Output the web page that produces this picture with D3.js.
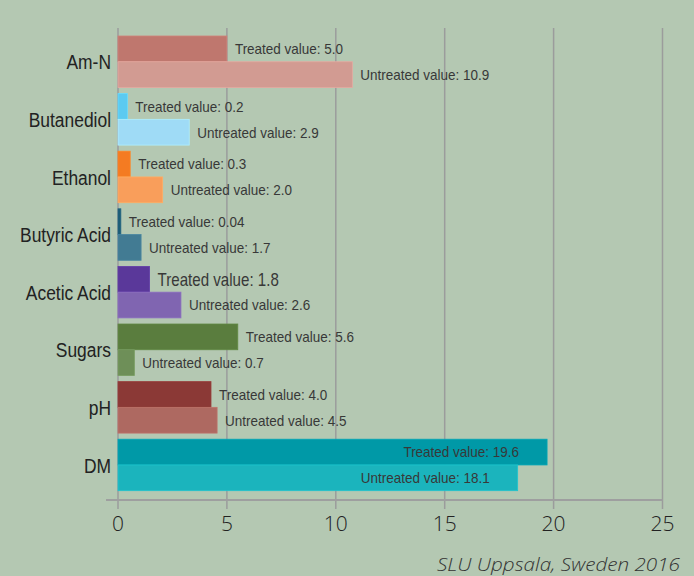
<!DOCTYPE html>
<html>
<head>
<meta charset="utf-8">
<script src="https://cdn.jsdelivr.net/npm/d3@7"></script>
<style>
    body { margin: 0; background: #b4c8b2; }
    svg { display: block; }
</style>
</head>
<body>
<div id="chart"></div>
<script>
var svgWidth = 694;
var svgHeight = 576;

// categories, top to bottom
var categories = ["Am-N", "Butanediol", "Ethanol", "Butyric Acid", "Acetic Acid", "Sugars", "pH", "DM"];

// bar lengths as drawn in the picture
var treatedValues = [5.0, 0.43, 0.56, 0.13, 1.45, 5.5, 4.27, 19.7];
var untreatedValues = [10.76, 3.27, 2.05, 1.06, 2.89, 0.75, 4.55, 18.35];

// values written in the labels
var treatedLabels = ["5.0", "0.2", "0.3", "0.04", "1.8", "5.6", "4.0", "19.6"];
var untreatedLabels = ["10.9", "2.9", "2.0", "1.7", "2.6", "0.7", "4.5", "18.1"];

var treatedColors = ["#bf776e", "#5ccaf0", "#f47b22", "#1d5c76", "#5a389a", "#5a7d3e", "#8b3936", "#0099a7"];
var untreatedColors = ["#d29b92", "#9fdbf6", "#f99e5b", "#427b93", "#8065b1", "#6e8f58", "#ae6961", "#1bb4bd"];

var xTicks = [0, 5, 10, 15, 20, 25];

var margin = { top: 36, left: 118 };

// narrow sans: Liberation Sans squeezed horizontally
var narrowFont = "'Liberation Sans', Arial, sans-serif";

var svg = d3.select("#chart")
    .append("svg")
    .attr("width", svgWidth)
    .attr("height", svgHeight);

svg.append("rect")
    .attr("width", svgWidth)
    .attr("height", svgHeight)
    .attr("fill", "#b4c8b2");

var xScale = d3.scaleLinear()
    .domain([0, 25])
    .range([margin.left, margin.left + 25 * 21.78]);

var yScale = d3.scaleBand()
    .domain(categories)
    .range([margin.top, 490.7])
    .paddingInner(0.106)
    .paddingOuter(0);

var subScale = d3.scaleBand()
    .domain(["treated", "untreated"])
    .range([0, yScale.bandwidth()]);

var axisY = 500;

// gridlines
svg.append("g")
    .selectAll("line")
    .data(xTicks)
    .enter()
    .append("line")
    .attr("x1", d => xScale(d))
    .attr("x2", d => xScale(d))
    .attr("y1", 28)
    .attr("y2", axisY + 9)
    .attr("stroke", "#9b9c9c")
    .attr("stroke-width", 1.5);

// bottom axis line
svg.append("line")
    .attr("x1", 106)
    .attr("x2", xScale(25))
    .attr("y1", axisY)
    .attr("y2", axisY)
    .attr("stroke", "#9e9f9f")
    .attr("stroke-width", 2);

// tick labels
svg.append("g")
    .selectAll("text")
    .data(xTicks)
    .enter()
    .append("text")
    .attr("x", d => xScale(d))
    .attr("y", 531)
    .attr("text-anchor", "middle")
    .style("font-family", "'Open Sans', sans-serif")
    .style("font-weight", 300)
    .style("font-size", "21px")
    .style("fill", "#222")
    .text(d => d);

// build rows for both series
var rows = [];
categories.forEach(function (c, i) {
    rows.push({ cat: c, kind: "treated", value: treatedValues[i], label: "Treated value: " + treatedLabels[i], color: treatedColors[i] });
    rows.push({ cat: c, kind: "untreated", value: untreatedValues[i], label: "Untreated value: " + untreatedLabels[i], color: untreatedColors[i] });
});

var barsGroup = svg.append("g");

barsGroup.selectAll("rect")
    .data(rows)
    .enter()
    .append("rect")
    .attr("x", xScale(0))
    .attr("y", d => yScale(d.cat) + subScale(d.kind))
    .attr("width", d => xScale(d.value) - xScale(0))
    .attr("height", subScale.bandwidth())
    .attr("fill", d => d.color)
    .attr("stroke", d => d3.color(d.color).brighter(0.25))
    .attr("stroke-width", 0.8);

// value labels, inside the bar when it is long
barsGroup.selectAll("text")
    .data(rows)
    .enter()
    .append("text")
    .attr("transform", function (d) {
        var big = d.cat === "Acetic Acid" && d.kind === "treated";
        var x = d.value > 15 ? xScale(d.value) - 28 : xScale(d.value) + 8;
        var y = yScale(d.cat) + subScale(d.kind) + subScale.bandwidth() / 2;
        return `translate(${x}, ${y}) scale(${big ? 0.84 : 0.9}, 1)`;
    })
    .attr("dy", "0.36em")
    .attr("text-anchor", d => d.value > 15 ? "end" : "start")
    .style("font-family", narrowFont)
    .style("font-size", d => (d.cat === "Acetic Acid" && d.kind === "treated") ? "18px" : "15px")
    .style("fill", "#383838")
    .text(d => d.label);

// category labels
svg.append("g")
    .selectAll("text")
    .data(categories)
    .enter()
    .append("text")
    .attr("transform", d => `translate(111, ${yScale(d) + yScale.bandwidth() / 2}) scale(0.83, 1)`)
    .attr("dy", "0.36em")
    .attr("text-anchor", "end")
    .style("font-family", narrowFont)
    .style("font-size", "21px")
    .style("fill", "#222")
    .text(d => d);

// source note
svg.append("text")
    .attr("transform", "translate(680, 571) scale(1.15, 1)")
    .attr("text-anchor", "end")
    .style("font-family", "'Open Sans', sans-serif")
    .style("font-style", "italic")
    .style("font-weight", 300)
    .style("font-size", "18px")
    .style("fill", "#333")
    .text("SLU Uppsala, Sweden 2016");
</script>
</body>
</html>
